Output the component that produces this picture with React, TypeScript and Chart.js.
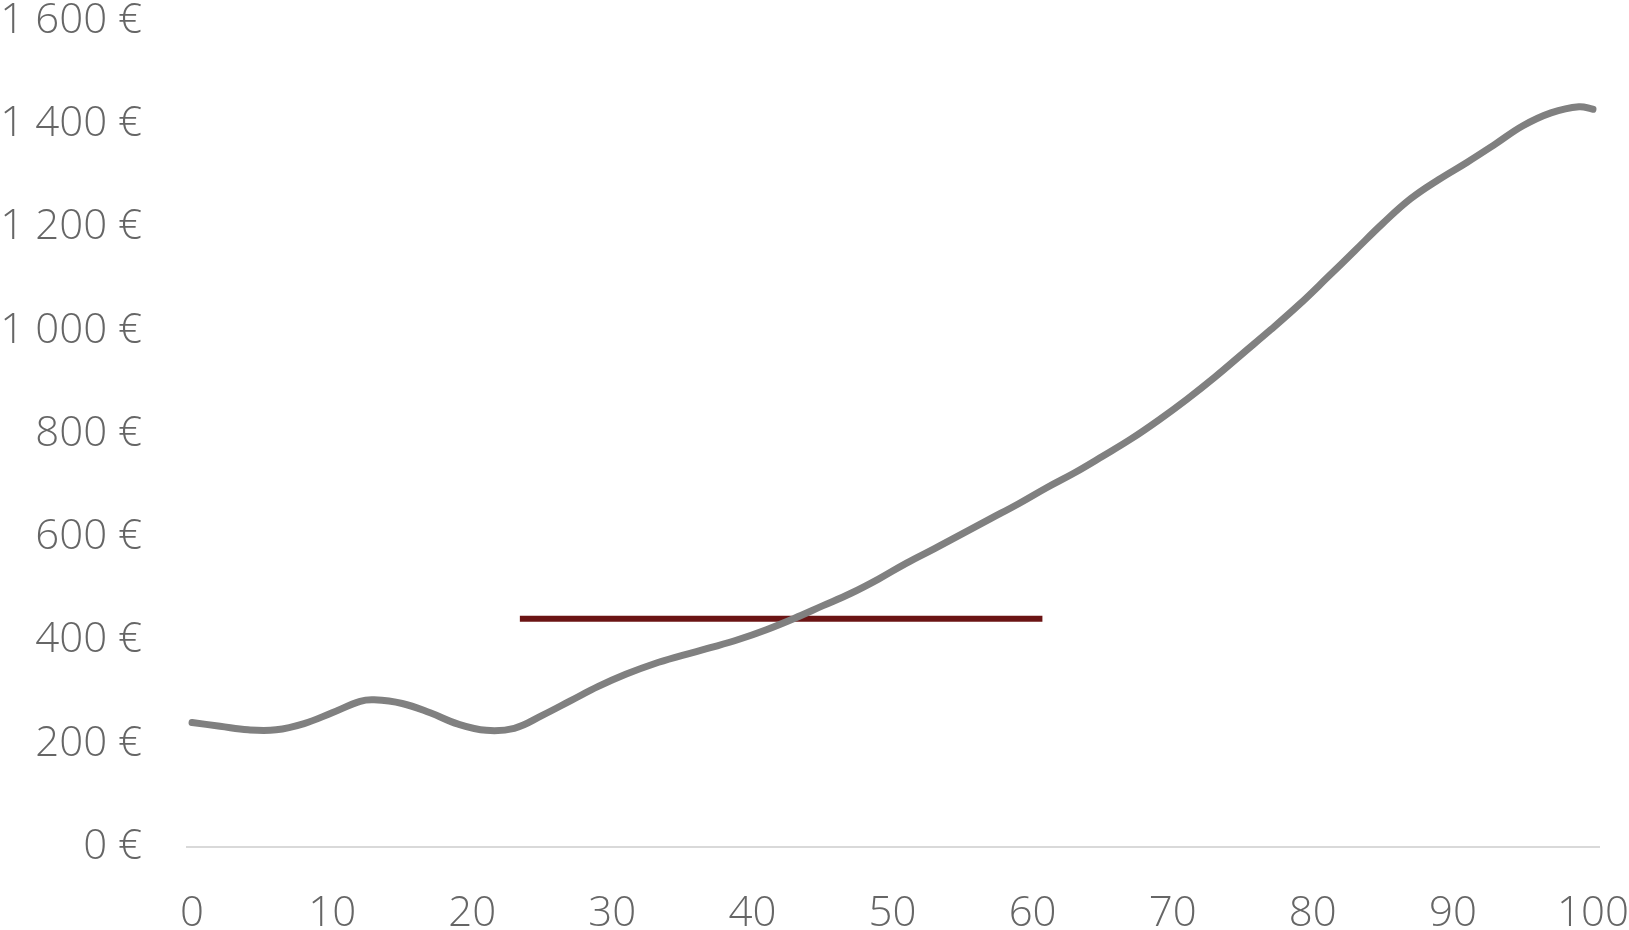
import React, { useEffect, useRef } from "react";
import { Chart, registerables } from "chart.js";

Chart.register(...registerables);

const xValues = [0, 2, 4, 6, 8, 10, 12, 13, 15, 17, 19, 21, 23, 25, 27, 29, 31, 33, 35, 37, 39, 41, 43, 45, 47, 49, 51, 53, 55, 57, 59, 61, 63, 65, 67, 69, 71, 73, 75, 77, 79, 81, 83, 85, 87, 89, 91, 93, 95, 97, 99, 100];
const yValues = [241, 234, 227, 227, 239, 260, 282, 285, 278, 260, 238, 226, 230, 255, 283, 311, 335, 355, 371, 386, 402, 421, 443, 467, 491, 519, 550, 578, 607, 636, 665, 696, 725, 757, 790, 827, 867, 910, 956, 1002, 1050, 1102, 1155, 1208, 1256, 1293, 1326, 1361, 1397, 1422, 1434, 1429];

const refX = [23.4, 60.7];
const refY = [442, 442];

const xTicks = [0, 10, 20, 30, 40, 50, 60, 70, 80, 90, 100];
const yTicks = [0, 200, 400, 600, 800, 1000, 1200, 1400, 1600];

function euro(v: number): string {
  if (v >= 1000) {
    return `${Math.floor(v / 1000)} ${String(v % 1000).padStart(3, "0")} €`;
  }
  return `${v} €`;
}

function zeroPad(axis: any) {
  axis.paddingTop = 0;
  axis.paddingBottom = 0;
  axis.paddingLeft = 0;
  axis.paddingRight = 0;
}

export default function App() {
  const ref = useRef<HTMLCanvasElement | null>(null);

  useEffect(() => {
    document.body.style.margin = "0";
    const canvas = ref.current;
    if (!canvas) return;
    const font = { family: "'Open Sans', sans-serif", size: 42, weight: 300 as any };
    const chart = new Chart(canvas, {
      type: "line",
      data: {
        datasets: [
          {
            data: xValues.map((x, i) => ({ x, y: yValues[i] })),
            borderColor: "#808080",
            borderWidth: 7,
            pointRadius: 0,
            tension: 0.4,
            borderCapStyle: "round",
            borderJoinStyle: "round",
            fill: false,
          },
          {
            data: refX.map((x, i) => ({ x, y: refY[i] })),
            borderColor: "#6b1414",
            borderWidth: 6,
            pointRadius: 0,
            tension: 0,
            fill: false,
          },
        ],
      },
      options: {
        animation: false,
        responsive: false,
        maintainAspectRatio: false,
        layout: { padding: { top: 21, right: 30, left: 0, bottom: 0 } },
        plugins: { legend: { display: false }, tooltip: { enabled: false } },
        scales: {
          x: {
            type: "linear",
            min: -0.36,
            max: 100.43,
            grid: { display: false, drawTicks: false },
            border: { display: true, color: "#d9d9d9", width: 2 },
            afterBuildTicks: (axis: any) => {
              axis.ticks = xTicks.map((v) => ({ value: v }));
            },
            afterFit: (axis: any) => {
              axis.height = 83;
              zeroPad(axis);
            },
            ticks: {
              font,
              color: "#666666",
              padding: 42,
              maxRotation: 0,
              autoSkip: false,
              callback: (v: any) => String(v),
            },
          },
          y: {
            type: "linear",
            min: 0,
            max: 1600,
            grid: { display: false, drawTicks: false },
            border: { display: false },
            afterBuildTicks: (axis: any) => {
              axis.ticks = yTicks.map((v) => ({ value: v }));
            },
            afterFit: (axis: any) => {
              axis.width = 187;
              zeroPad(axis);
            },
            ticks: {
              font,
              color: "#666666",
              padding: 45,
              autoSkip: false,
              callback: (v: any) => euro(Number(v)),
            },
          },
        },
      },
    });
    return () => chart.destroy();
  }, []);

  return (
    <div style={{ width: 1629, height: 930, background: "#fff" }}>
      <canvas ref={ref} width={1629} height={930} style={{ display: "block" }} />
    </div>
  );
}
